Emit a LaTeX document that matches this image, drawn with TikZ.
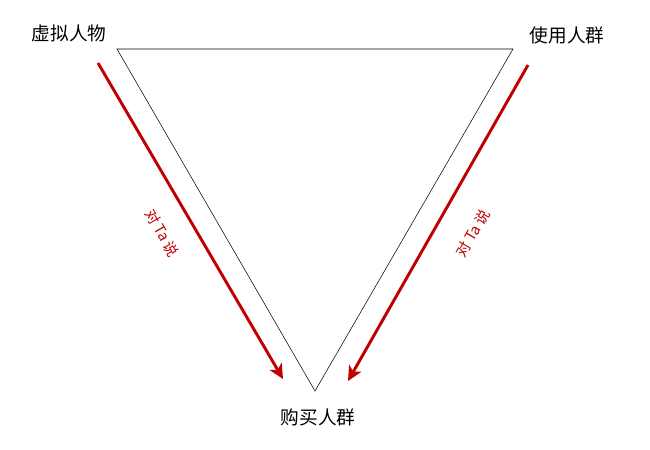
\documentclass[tikz,border=0pt]{standalone}
\usepackage{fontspec}
\setmainfont{Noto Sans CJK SC}
\usetikzlibrary{arrows.meta}
\definecolor{saydark}{RGB}{192,0,0}
\tikzset{
	grouplabel/.style={font=\fontsize{14}{16}\selectfont, inner sep=0pt},
	saylabel/.style={font=\fontsize{11}{13}\selectfont, text=saydark, inner sep=0pt},
	sayarrow/.style={line width=2.2pt, color=saydark, -{Stealth[length=11pt, width=10.5pt, inset=3pt]}}
}

\begin{document}
\begin{tikzpicture}[x=0.75pt, y=0.75pt]
			%%%%% START %%%%%
			
			\useasboundingbox (0, 0) rectangle (650, -450);
			
			\coordinate (tl) at (117, -49);
			\coordinate (tr) at (513, -49);
			\coordinate (bt) at (315, -391);
			\draw[line width=0.4pt] (tl) -- (tr) -- (bt) -- cycle;
			
			\node[grouplabel] (virtual) at (69, -33) {虚拟人物};
			\node[grouplabel] (users) at (567, -35) {使用人群};
			\node[grouplabel] (buyers) at (318, -417) {购买人群};
			
			\coordinate (ls) at (98, -63);
			\coordinate (le) at (283, -379);
			\draw[sayarrow] (ls) -- (le);
			\node[saylabel, rotate=-60] (sayleft) at (162, -233) {对 Ta 说};
			
			\coordinate (rs) at (528, -65);
			\coordinate (re) at (348, -381);
			\draw[sayarrow] (rs) -- (re);
			\node[saylabel, rotate=60] (sayright) at (473, -233) {对 Ta 说};
			
			%%%%% END %%%%%
		\end{tikzpicture}
\end{document}
